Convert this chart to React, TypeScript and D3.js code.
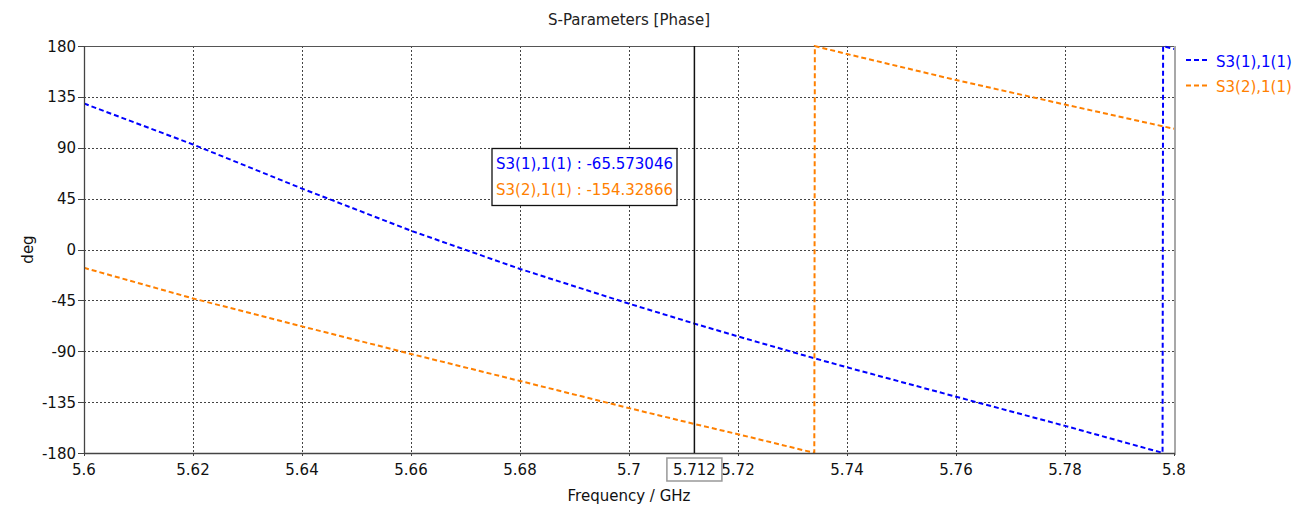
import React from "react";
import * as d3 from "d3";

// Phase of S3(1),1(1) and S3(2),1(1) versus frequency (GHz), wrapped to ±180°.
const s31Freq = [5.6, 5.62, 5.64, 5.66, 5.68, 5.7, 5.712, 5.72, 5.734, 5.74, 5.76, 5.78, 5.7979, 5.798, 5.8];
const s31Phase = [129.1, 92.9, 53.9, 16.6, -17.2, -47.9, -65.573046, -76.9, -96.2, -104.2, -130.2, -156.0, -179.9, 179.9, 177.4];

const s32Freq = [5.6, 5.62, 5.64, 5.66, 5.68, 5.7, 5.712, 5.72, 5.734, 5.7341, 5.74, 5.76, 5.78, 5.8];
const s32Phase = [-16.2, -43.3, -68.0, -92.4, -116.3, -140.3, -154.32866, -163.4, -179.9, 179.9, 172.9, 149.9, 128.2, 106.8];

const seriesNames = ["S3(1),1(1)", "S3(2),1(1)"];
const seriesColors = ["#0000ff", "#ff8000"];

const xTicks = [5.6, 5.62, 5.64, 5.66, 5.68, 5.7, 5.72, 5.74, 5.76, 5.78, 5.8];
const xTickLabels = ["5.6", "5.62", "5.64", "5.66", "5.68", "5.7", "5.72", "5.74", "5.76", "5.78", "5.8"];
const yTicks = [-180, -135, -90, -45, 0, 45, 90, 135, 180];

// Marker readout
const markerFreq = 5.712;
const markerFreqLabel = "5.712";
const markerValues = ["-65.573046", "-154.32866"];

const W = 1297;
const H = 507;
const left = 84;
const right = 1174;
const top = 46;
const bottom = 453;
const FONT = "'DejaVu Sans', Verdana, sans-serif";

export default function App() {
  const x = d3.scaleLinear().domain([5.6, 5.8]).range([left, right]);
  const y = d3.scaleLinear().domain([-180, 180]).range([bottom, top]);

  const mk = (fs: number[], ps: number[]) =>
    d3
      .line<number>()
      .x((_, i) => x(fs[i]))
      .y((p) => y(p))(ps) as string;

  const paths = [mk(s31Freq, s31Phase), mk(s32Freq, s32Phase)];
  const cx = x(markerFreq);

  return (
    <svg
      width={W}
      height={H}
      style={{ position: "absolute", left: 0, top: 0, background: "#fff" }}
      fontFamily={FONT}
    >
      <rect x={0} y={0} width={W} height={H} fill="#fff" />
      <text x={(left + right) / 2} y={25} textAnchor="middle" fontSize={15} fill="#222">
        S-Parameters [Phase]
      </text>

      {/* grid */}
      <g stroke="#444" strokeWidth={1} strokeDasharray="2,2" shapeRendering="crispEdges">
        {xTicks.slice(1, -1).map((t) => (
          <line key={"gx" + t} x1={Math.round(x(t)) + 0.5} x2={Math.round(x(t)) + 0.5} y1={top} y2={bottom} />
        ))}
        {yTicks.slice(1, -1).map((t) => (
          <line key={"gy" + t} x1={left} x2={right} y1={Math.round(y(t)) + 0.5} y2={Math.round(y(t)) + 0.5} />
        ))}
      </g>

      {/* frame */}
      <line x1={left} x2={right} y1={top + 0.5} y2={top + 0.5} stroke="#555" strokeWidth={1} />
      <line x1={right + 1} x2={right + 1} y1={top} y2={bottom + 2} stroke="#a8a8a8" strokeWidth={2} />

      {/* data */}
      <g clipPath="url(#plotclip)">
        {paths.map((d, i) => (
          <path key={i} d={d} fill="none" stroke={seriesColors[i]} strokeWidth={2} strokeDasharray="5,3" />
        ))}
      </g>
      <defs>
        <clipPath id="plotclip">
          <rect x={left} y={top - 1} width={right - left + 1} height={bottom - top + 2} />
        </clipPath>
      </defs>

      {/* axes */}
      <line x1={left + 0.5} x2={left + 0.5} y1={top} y2={bottom} stroke="#444" strokeWidth={1.3} />
      <line x1={left} x2={right + 1} y1={bottom + 0.5} y2={bottom + 0.5} stroke="#444" strokeWidth={1.3} />
      {yTicks.map((t) => (
        <g key={"yt" + t}>
          <line x1={left - 6} x2={left} y1={Math.round(y(t)) + 0.5} y2={Math.round(y(t)) + 0.5} stroke="#444" />
          <text x={left - 8} y={y(t) + 5.5} textAnchor="end" fontSize={15} fill="#111">
            {t}
          </text>
        </g>
      ))}
      {xTicks.map((t, i) => (
        <g key={"xt" + t}>
          <line x1={Math.round(x(t)) + 0.5} x2={Math.round(x(t)) + 0.5} y1={bottom} y2={bottom + 3} stroke="#444" />
          <text x={x(t)} y={475} textAnchor="middle" fontSize={15} fill="#111">
            {xTickLabels[i]}
          </text>
        </g>
      ))}
      <text x={(left + right) / 2} y={501} textAnchor="middle" fontSize={15} fill="#111">
        Frequency / GHz
      </text>
      <text transform={`translate(33,${(top + bottom) / 2}) rotate(-90)`} textAnchor="middle" fontSize={15} fill="#111">
        deg
      </text>

      {/* marker cursor */}
      <line x1={cx} x2={cx} y1={top} y2={bottom} stroke="#111" strokeWidth={1.5} />
      <rect x={cx - 27.5} y={458} width={55} height={23} fill="#fff" stroke="#999" strokeWidth={1.5} />
      <text x={cx} y={475} textAnchor="middle" fontSize={15} fill="#111">
        {markerFreqLabel}
      </text>

      <rect x={492} y={148.5} width={185} height={57} fill="#fff" stroke="#111" strokeWidth={1.3} />
      {seriesNames.map((n, i) => (
        <text key={"mv" + i} x={496} y={169 + i * 25.5} fontSize={15} fill={seriesColors[i]}>
          {`${n} : ${markerValues[i]}`}
        </text>
      ))}

      {/* legend */}
      {seriesNames.map((n, i) => (
        <g key={"lg" + i}>
          <line x1={1186} x2={1209} y1={60 + i * 25.5} y2={60 + i * 25.5} stroke={seriesColors[i]} strokeWidth={2} strokeDasharray="5,3" />
          <text x={1216} y={66.5 + i * 25.5} fontSize={15} fill={seriesColors[i]}>
            {n}
          </text>
        </g>
      ))}
    </svg>
  );
}
